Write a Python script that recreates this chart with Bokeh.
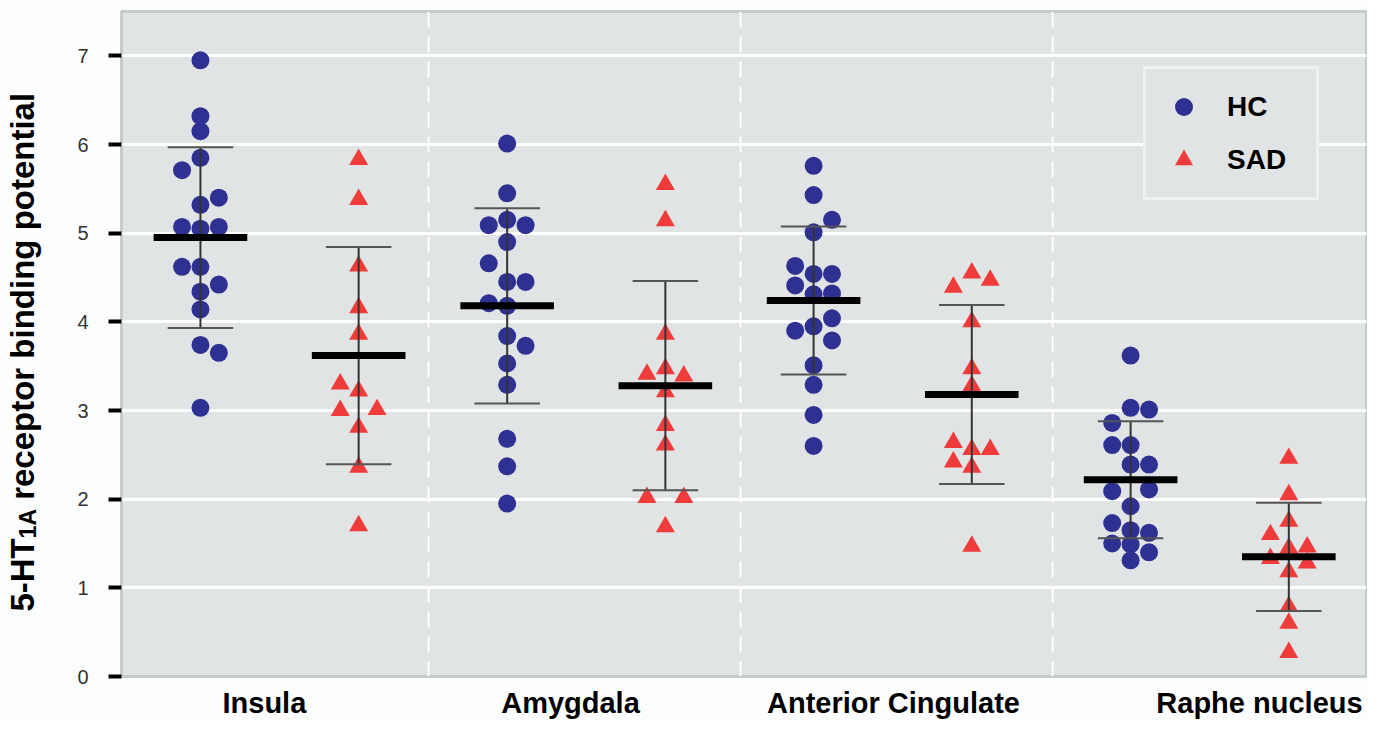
from bokeh.plotting import figure
from bokeh.layouts import row
from bokeh.models import (Range1d, FixedTicker, Span, Label, Legend, LegendItem,
                          ColumnDataSource)
from bokeh.embed import file_html
from bokeh.resources import INLINE
import math

# ---------------- data ----------------
regions = ["Insula", "Amygdala", "Anterior Cingulate", "Raphe nucleus"]
groups = ["HC", "SAD"]

insula_hc = [6.95, 6.32, 6.15, 5.85, 5.71, 5.40, 5.32, 5.07, 5.05, 5.07, 4.62, 4.62, 4.42, 4.34, 4.14, 3.74, 3.65, 3.03]
insula_hc_col = [0, 0, 0, 0, -1, 1, 0, -1, 0, 1, -1, 0, 1, 0, 0, 0, 1, 0]
insula_sad = [5.83, 5.38, 4.63, 4.16, 3.86, 3.30, 3.22, 3.00, 3.01, 2.81, 2.36, 1.70]
insula_sad_col = [0, 0, 0, 0, 0, -1, 0, -1, 1, 0, 0, 0]

amygdala_hc = [6.01, 5.45, 5.15, 5.09, 5.09, 4.90, 4.66, 4.45, 4.45, 4.21, 4.18, 3.84, 3.73, 3.53, 3.29, 2.68, 2.37, 1.95]
amygdala_hc_col = [0, 0, 0, -1, 1, 0, -1, 0, 1, -1, 0, 0, 1, 0, 0, 0, 0, 0]
amygdala_sad = [5.55, 5.14, 3.86, 3.47, 3.41, 3.39, 3.21, 2.83, 2.61, 2.02, 2.02, 1.69]
amygdala_sad_col = [0, 0, 0, 0, -1, 1, 0, 0, 0, -1, 1, 0]

cingulate_hc = [5.76, 5.43, 5.15, 5.01, 4.63, 4.54, 4.54, 4.41, 4.31, 4.32, 4.04, 3.90, 3.95, 3.79, 3.51, 3.29, 2.95, 2.60]
cingulate_hc_col = [0, 0, 1, 0, -1, 0, 1, -1, 0, 1, 1, -1, 0, 1, 0, 0, 0, 0]
cingulate_sad = [4.55, 4.47, 4.39, 4.00, 3.47, 3.28, 2.64, 2.56, 2.56, 2.42, 2.36, 1.47]
cingulate_sad_col = [0, 1, -1, 0, 0, 0, -1, 0, 1, -1, 0, 0]

raphe_hc = [3.62, 3.03, 3.01, 2.86, 2.61, 2.61, 2.39, 2.39, 2.09, 2.11, 1.92, 1.73, 1.65, 1.62, 1.50, 1.49, 1.40, 1.31]
raphe_hc_col = [0, 0, 1, -1, -1, 0, 0, 1, -1, 1, 0, -1, 0, 1, -1, 0, 1, 0]
raphe_sad = [2.46, 2.05, 1.75, 1.60, 1.45, 1.46, 1.33, 1.28, 1.18, 0.79, 0.60, 0.27]
raphe_sad_col = [0, 0, 0, -1, 0, 1, -1, 1, 0, 0, 0, 0]

hc_mean = [4.95, 4.18, 4.24, 2.22]
hc_sd = [1.02, 1.10, 0.835, 0.66]
sad_mean = [3.62, 3.28, 3.18, 1.35]
sad_sd = [1.225, 1.18, 1.01, 0.61]

y_ticks = [0, 1, 2, 3, 4, 5, 6, 7]
y_title_main = "5-HT"
y_title_sub = "1A"
y_title_rest = "receptor binding potential"

hc_values = [insula_hc, amygdala_hc, cingulate_hc, raphe_hc]
hc_cols = [insula_hc_col, amygdala_hc_col, cingulate_hc_col, raphe_hc_col]
sad_values = [insula_sad, amygdala_sad, cingulate_sad, raphe_sad]
sad_cols = [insula_sad_col, amygdala_sad_col, cingulate_sad_col, raphe_sad_col]

# ---------------- layout constants ----------------
HC_OFF, SAD_OFF, JIT = 0.252, 0.759, 0.059
GROUP_SHIFT = [0.017, 0.0, -0.018, -0.002]
LABEL_POS = [0.474, 1.455, 2.49, 3.663]
MEAN_W, CAP_W = 0.30, 0.21
FONT = "Liberation Sans"
HC_COLOR = "#2e3192"
SAD_COLOR = "#ef3b39"
BG = "#e0e4e4"
PAGE = "#fcfdfd"
TOTAL_W, TOTAL_H = 1367, 721
LEFT_W = 60
PX_PER_UNIT = 666 / 7.5


def build(values, cols, off):
    xs, ys = [], []
    for i, (vals, cs) in enumerate(zip(values, cols)):
        for v, c in zip(vals, cs):
            xs.append(i + GROUP_SHIFT[i] + off + c * JIT)
            ys.append(v)
    return ColumnDataSource(dict(x=xs, y=ys))


hc_src = build(hc_values, hc_cols, HC_OFF)
sad_src = build(sad_values, sad_cols, SAD_OFF)


def stats_src(means, sds, off):
    x = [i + GROUP_SHIFT[i] + off for i in range(len(means))]
    lo = [m - s for m, s in zip(means, sds)]
    hi = [m + s for m, s in zip(means, sds)]
    return ColumnDataSource(dict(
        x=x, mean=means, lo=lo, hi=hi,
        cl=[v - CAP_W / 2 for v in x], cr=[v + CAP_W / 2 for v in x]))


hc_stats = stats_src(hc_mean, hc_sd, HC_OFF)
sad_stats = stats_src(sad_mean, sad_sd, SAD_OFF)

# ---------------- main figure ----------------
p = figure(width=TOTAL_W - LEFT_W, height=TOTAL_H, output_backend="svg",
           toolbar_location=None,
           x_range=Range1d(0.016, 4.006), y_range=Range1d(0, 7.5),
           min_border_left=121 - LEFT_W, min_border_right=1, min_border_top=11,
           min_border_bottom=TOTAL_H - 677)
p.background_fill_color = BG
p.border_fill_color = PAGE
p.outline_line_color = "#c3cbcb"
p.outline_line_width = 3

p.xgrid.visible = False
p.ygrid.grid_line_color = "white"
p.ygrid.grid_line_width = 3

for k in range(1, len(regions)):
    p.add_layout(Span(location=k, dimension="height", line_color="white",
                      line_width=2, line_dash="16 9", level="underlay"))

# y axis
p.yaxis.ticker = FixedTicker(ticks=y_ticks)
p.yaxis.axis_line_color = None
p.yaxis.major_tick_line_color = "black"
p.yaxis.major_tick_line_width = 4
p.yaxis.major_tick_out = 13
p.yaxis.major_tick_in = 0
p.yaxis.minor_tick_line_color = None
p.yaxis.major_label_text_font = FONT
p.yaxis.major_label_text_font_size = "20px"
p.yaxis.major_label_text_color = "#333333"
p.yaxis.major_label_standoff = 20

# x axis
p.xaxis.ticker = FixedTicker(ticks=LABEL_POS)
p.xaxis.major_label_overrides = {t: r for t, r in zip(LABEL_POS, regions)}
p.xaxis.axis_line_color = None
p.xaxis.major_tick_line_color = None
p.xaxis.minor_tick_line_color = None
p.xaxis.major_label_text_font = FONT
p.xaxis.major_label_text_font_style = "bold"
p.xaxis.major_label_text_font_size = "29px"
p.xaxis.major_label_text_color = "black"
p.xaxis.major_label_standoff = 4

# points
r_hc = p.scatter("x", "y", source=hc_src, marker="circle", size=18,
                 fill_color=HC_COLOR, line_color=None)
r_sad = p.scatter("x", "y", source=sad_src, marker="triangle", size=19,
                  fill_color=SAD_COLOR, line_color=None)

# error bars and means
for src in (hc_stats, sad_stats):
    p.segment("x", "lo", "x", "hi", source=src, line_color="#333333", line_width=2)
    p.segment("cl", "lo", "cr", "lo", source=src, line_color="#555555", line_width=2)
    p.segment("cl", "hi", "cr", "hi", source=src, line_color="#555555", line_width=2)
    p.rect("x", "mean", width=MEAN_W, height=7, height_units="screen", source=src,
           fill_color="black", line_color=None)

# legend
legend = Legend(items=[LegendItem(label=groups[0], renderers=[r_hc]),
                       LegendItem(label=groups[1], renderers=[r_sad])],
                location=(1022, 476), margin=0, padding=15, spacing=8,
                glyph_width=45, glyph_height=45, label_standoff=21, label_width=74,
                border_line_color="white", border_line_width=3,
                background_fill_color=BG, background_fill_alpha=1,
                label_text_font=FONT, label_text_font_style="bold",
                label_text_font_size="28px", label_text_color="black")
p.add_layout(legend)

# ---------------- y-axis title panel ----------------
t = figure(width=LEFT_W, height=TOTAL_H, output_backend="svg", toolbar_location=None,
           x_range=Range1d(0, LEFT_W), y_range=p.y_range,
           x_axis_type=None, y_axis_type=None,
           min_border_left=0, min_border_right=0, min_border_top=11,
           min_border_bottom=TOTAL_H - 677)
t.outline_line_color = None
t.background_fill_color = PAGE
t.border_fill_color = PAGE
t.grid.visible = False

F, FS = 33, 23
y0 = (677 - 612) / PX_PER_UNIT
pieces = [(y_title_main, F, y0, 22),
          (y_title_sub, FS, y0 + 2.222 * F / PX_PER_UNIT, 27),
          (y_title_rest, F, y0 + (2.222 * F + 1.278 * FS + 0.278 * F) / PX_PER_UNIT, 22)]
for txt, fs, yy, xx in pieces:
    t.add_layout(Label(x=xx, y=yy, text=txt,
                       angle=math.pi / 2, text_align="left", text_baseline="alphabetic",
                       text_font=FONT, text_font_style="bold",
                       text_font_size=f"{fs}px", text_color="black"))

layout = row(t, p)
open("out.html", "w").write(file_html(layout, INLINE))
